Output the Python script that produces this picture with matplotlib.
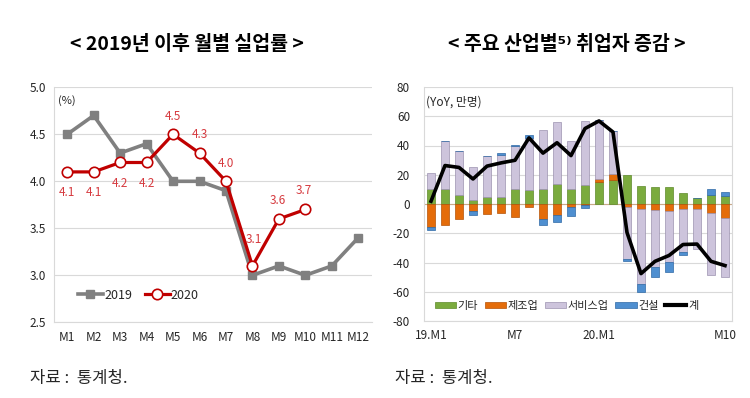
import matplotlib
matplotlib.use("Agg")
import matplotlib.pyplot as plt
import numpy as np
from matplotlib.lines import Line2D
from matplotlib.patches import Patch

plt.rcParams['font.family'] = ['Noto Sans CJK KR', 'DejaVu Sans']

# ---- Left chart data ----
months = ['M1', 'M2', 'M3', 'M4', 'M5', 'M6', 'M7', 'M8', 'M9', 'M10', 'M11', 'M12']
unemp_2019 = [4.5, 4.7, 4.3, 4.4, 4.0, 4.0, 3.9, 3.0, 3.1, 3.0, 3.1, 3.4]
unemp_2020 = [4.1, 4.1, 4.2, 4.2, 4.5, 4.3, 4.0, 3.1, 3.6, 3.7]
left_yticks = [2.5, 3.0, 3.5, 4.0, 4.5, 5.0]

# ---- Right chart data (YoY, 10k persons) ----
periods = ['19.M1', 'M2', 'M3', 'M4', 'M5', 'M6', 'M7', 'M8', 'M9', 'M10', 'M11', 'M12',
           '20.M1', 'M2', 'M3', 'M4', 'M5', 'M6', 'M7', 'M8', 'M9', 'M10']
shown_xlabels = ['19.M1', 'M7', '20.M1', 'M10']
etc_vals = [10, 10, 6.2, 2.7, 5, 5, 10, 9.6, 10, 13.7, 10.4, 13,
            15.3, 16.6, 20, 12.4, 11.5, 11.5, 7.4, 3.9, 6.2, 5.8]
manuf_vals = [-15.6, -14.4, -10, -4.5, -7, -6.4, -8.7, -1.8, -10.5, -7.5, -2.2, -0.6,
              1.7, 3.8, -1.8, -3.4, -4.1, -4.6, -3.4, -3.4, -6.4, -9.8]
service_vals = [11, 32.8, 29.8, 22.5, 28, 28.5, 29.4, 35.4, 40.4, 42.3, 32.4, 43.6,
                40.6, 29.8, -35.5, -51, -39, -35, -29.3, -27.6, -41.9, -40.1]
constr_vals = [-2, 0, 0, -3, 0, 1.5, 1, 2.4, -3.9, -4.5, -6, -2.4,
               0, 0, -1.7, -5.7, -7, -6.9, -2.3, 0, 4.2, 2.7]
total_vals = [1.9, 26.3, 25.0, 17.1, 25.9, 28.1, 29.9, 45.2, 34.8, 41.9, 33.1, 51.6,
              56.8, 49.2, -19.5, -47.6, -39.2, -35.2, -27.7, -27.4, -39.2, -42.1]
right_yticks = [-80, -60, -40, -20, 0, 20, 40, 60, 80]

W, H = 750, 398
fig = plt.figure(figsize=(W / 100, H / 100), dpi=100)

def fx(px):
    return px / W

def fy(py):
    return 1 - py / H

grid_c = '#d9d9d9'
txt_c = '#262626'

# ================= Left chart =================
axL = fig.add_axes([fx(54), fy(322.3), fx(371.5 - 54), (322.3 - 87.3) / H])
x = np.arange(len(months))
axL.plot(x, unemp_2019, color='#808080', lw=2.6, marker='s', ms=5.5,
         markerfacecolor='#808080', markeredgecolor='#808080', label='2019', zorder=3)
x20 = np.arange(len(unemp_2020))
axL.plot(x20, unemp_2020, color='#c00000', lw=2.3, marker='o', ms=7.5,
         markerfacecolor='white', markeredgecolor='#c00000', markeredgewidth=1.2,
         label='2020', zorder=4)
offsets = [-21, -21, -21, -21, 18, 19, 18, 26, 18, 19]
dxs = [0, 0, 0, 0, 0, 0, 0, 1, -1, -1]
for i, v in enumerate(unemp_2020):
    axL.annotate(f"{v:.1f}", (x20[i], v), xytext=(dxs[i], offsets[i] * 0.72),
                 textcoords='offset points', ha='center', va='center',
                 color='#d63a3f', fontsize=8.5)
axL.set_xlim(-0.5, len(months) - 0.5)
axL.set_ylim(2.5, 5.0)
axL.set_yticks(left_yticks)
axL.set_yticklabels([f"{v:.1f}" for v in left_yticks])
axL.set_xticks(x)
axL.set_xticklabels(months)
axL.tick_params(length=0, labelsize=8.5, colors=txt_c, pad=6)
axL.grid(axis='y', color=grid_c, lw=0.8)
axL.set_axisbelow(True)
for s in ['top', 'right']:
    axL.spines[s].set_visible(False)
axL.spines['left'].set_color(grid_c)
axL.spines['bottom'].set_color(grid_c)
axL.text(0.012, 0.965, '(%)', transform=axL.transAxes, ha='left', va='top',
         fontsize=8, color=txt_c)
legL = axL.legend(loc='lower left', bbox_to_anchor=(0.04, 0.04), ncol=2, frameon=False,
                  fontsize=9, handlelength=2.0, columnspacing=1.0, handletextpad=0.1)
for t in legL.get_texts():
    t.set_color(txt_c)

fig.text(fx(187), fy(45), '< 2019년 이후 월별 실업률 >', ha='center', va='center',
         fontsize=14, fontweight='bold', color='black')
fig.text(fx(30), fy(378), '자료 :  통계청.', ha='left', va='center', fontsize=12, color=txt_c)

# ================= Right chart =================
axR = fig.add_axes([fx(424), fy(321), fx(732 - 424), (321 - 87) / H])
xr = np.arange(len(periods))
series = [
    ('기타', etc_vals, '#7bab3e', '#5e8a2a'),
    ('제조업', manuf_vals, '#e46c0a', '#b55207'),
    ('서비스업', service_vals, '#cdc4dc', '#9c92b0'),
    ('건설', constr_vals, '#4f8fd0', '#2f6aa6'),
]
pos_bottom = np.zeros(len(periods))
neg_bottom = np.zeros(len(periods))
handles = []
for name, vals, col, ec in series:
    v = np.array(vals, dtype=float)
    bottoms = np.where(v >= 0, pos_bottom, neg_bottom)
    axR.bar(xr, v, width=0.64, bottom=bottoms, color=col, edgecolor=ec, linewidth=0.5, zorder=2)
    pos_bottom = pos_bottom + np.where(v > 0, v, 0)
    neg_bottom = neg_bottom + np.where(v < 0, v, 0)
    handles.append(Patch(facecolor=col, edgecolor=ec, linewidth=0.5, label=name))
axR.plot(xr, total_vals, color='black', lw=2.6, zorder=4)
handles.append(Line2D([0], [0], color='black', lw=3, label='계'))
axR.axhline(0, color='#c9a98a', lw=0.8, zorder=1)

axR.set_xlim(-0.5, len(periods) - 0.5)
axR.set_ylim(-80, 80)
axR.set_yticks(right_yticks)
axR.set_yticklabels([str(v) for v in right_yticks])
tick_pos = [periods.index('19.M1'), 6, 12, 21]
axR.set_xticks(tick_pos)
axR.set_xticklabels(shown_xlabels)
axR.tick_params(length=0, labelsize=8.5, colors=txt_c, pad=6)
axR.tick_params(axis='y', pad=10)
axR.grid(axis='y', color=grid_c, lw=0.8)
axR.set_axisbelow(True)
for s in axR.spines.values():
    s.set_color(grid_c)
axR.spines['top'].set_visible(False)
axR.text(0.005, 0.965, '(YoY, 만명)', transform=axR.transAxes, ha='left', va='top',
         fontsize=8.5, color=txt_c)
legR = axR.legend(handles=handles, loc='lower left', bbox_to_anchor=(0.01, 0.01), ncol=5,
                  frameon=False, fontsize=8, handlelength=1.9, handleheight=0.45,
                  columnspacing=0.6, handletextpad=0.15, borderaxespad=0.3)
for t in legR.get_texts():
    t.set_color(txt_c)

fig.text(fx(567), fy(45), '< 주요 산업별⁵⁾ 취업자 증감 >', ha='center', va='center',
         fontsize=14, fontweight='bold', color='black')
fig.text(fx(395), fy(378), '자료 :  통계청.', ha='left', va='center', fontsize=12, color=txt_c)

fig.savefig('out.png', dpi=100, facecolor='white')
